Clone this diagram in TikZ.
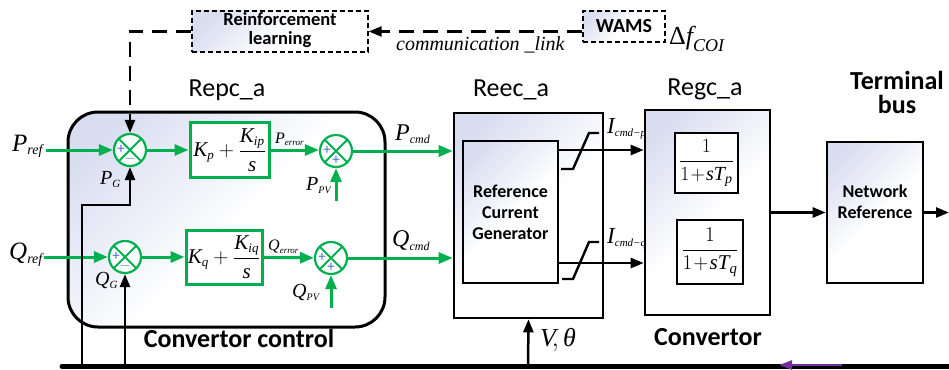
\documentclass[tikz,border=0pt]{standalone}
\usepackage{fix-cm}
\usepackage{amsmath}
\usepackage{fontspec}
\setmainfont{Liberation Serif}
\newfontfamily\calib{Carlito}
\usetikzlibrary{arrows.meta,calc}
\definecolor{gn}{RGB}{0,176,80}
\definecolor{bl}{RGB}{68,114,196}
\definecolor{lav}{RGB}{216,221,240}
\definecolor{pur}{RGB}{112,48,160}
\pgfdeclarehorizontalshading{lavsh}{100bp}{color(0bp)=(lav); color(22bp)=(lav); color(52bp)=(white); color(100bp)=(white)}
\newcommand\tmi[1]{\textnormal{\itshape #1}}
\newcommand\lb[3]{\tmi{#1}_{\textnormal{\fontsize{#3}{#3}\selectfont\itshape #2}}}
\tikzset{
  sumjn/.style={circle, draw=gn, line width=2.2pt, fill=white, minimum size=32pt, inner sep=0pt,
    path picture={\draw[gn,line width=1.8pt]
      (path picture bounding box.north west)--(path picture bounding box.south east)
      (path picture bounding box.north east)--(path picture bounding box.south west);}},
  gbox/.style={draw=gn, line width=3pt, fill=white, inner sep=0pt},
  shbox/.style={draw=black, line width=2.6pt, shading=lavsh, shading angle=-45, inner sep=0pt},
  wbox/.style={draw=black, line width=2.6pt, fill=white, inner sep=0pt},
  gar/.style={draw=gn, line width=3pt, -{Triangle[length=14pt,width=11pt]}},
  blkarrow/.style={draw=black, line width=2.5pt, -{Triangle[length=13pt,width=10pt]}},
  dline/.style={draw=black, line width=2.5pt, dash pattern=on 15pt off 9pt},
  sgn/.style={text=bl, font=\calib\fontsize{15}{15}\selectfont, inner sep=0pt},
  lbl/.style={font=\calib\fontsize{26}{26}\selectfont, inner sep=0pt},
  ml/.style={inner sep=0pt, anchor=base west, font=\fontsize{#1}{#1}\selectfont},
  dashbox/.style={draw=black, line width=1.4pt, dash pattern=on 5pt off 3pt, shading=lavsh, shading angle=-45, inner sep=0pt},
  btxt/.style={font=\calib\bfseries\fontsize{#1}{#1}\selectfont, inner sep=0pt, anchor=base},
}
\begin{document}
\begin{tikzpicture}[x=1pt,y=-1pt]
\useasboundingbox (0,0) rectangle (949,369);

% ---- top: RL and WAMS
\node[dashbox, minimum width=176pt, minimum height=41pt] (rl) at (280,31.5) {};
\node[btxt=18.5] (rl1) at (280,26) {Reinforcement};
\node[btxt=18.5] (rl2) at (280,45) {learning};
\node[dashbox, minimum width=82pt, minimum height=31pt] (wams) at (624,26.5) {};
\node[btxt=20] (wamst) at (624,33) {WAMS};
\node[inner sep=0pt, anchor=base west, font=\itshape\fontsize{20}{20}\selectfont] (comm) at (396,50) {communication \_link};
\node[ml=26] (dfc) at (669,45) {$\textnormal{Δ}\lb{f}{COI}{18}$};

% ---- titles
\node[lbl, anchor=base] (repc) at (227,96) {Repc\_a};
\node[lbl, anchor=base] (reect) at (511,96) {Reec\_a};
\node[lbl, anchor=base] (regct) at (705,95) {Regc\_a};
\node[btxt=26] (term1) at (897,89) {Terminal};
\node[btxt=26] (term2) at (897,113) {bus};
\node[btxt=26] (cc) at (239,347) {Convertor control};
\node[btxt=26] (conv) at (708,345) {Convertor};

% ---- convertor control box
\node[shbox, line width=3pt, rounded corners=30pt, minimum width=317pt, minimum height=215pt] (ctrl) at (226.5,219.5) {};

% summing junctions
\node[sumjn] (s1) at (130,150) {};
\node[sumjn] (s2) at (336,151) {};
\node[sumjn] (s3) at (125,257) {};
\node[sumjn] (s4) at (331,258) {};
\node[sgn] (s1a) at ($(s1)+(-9,-1)$) {+};
\node[sgn] (s1b) at ($(s1)+(0,9)$) {$-$};
\node[sgn] (s2a) at ($(s2)+(-9,-1)$) {+};
\node[sgn] (s2b) at ($(s2)+(0,9)$) {+};
\node[sgn] (s3a) at ($(s3)+(-9,-1)$) {+};
\node[sgn] (s3b) at ($(s3)+(0,9)$) {$-$};
\node[sgn] (s4a) at ($(s4)+(-9,-1)$) {+};
\node[sgn] (s4b) at ($(s4)+(0,9)$) {+};

% PI blocks
\node[gbox, minimum width=79pt, minimum height=55pt, font=\fontsize{21}{21}\selectfont] (pi1) at (229.5,150)
  {$\lb{K}{p}{13}+\dfrac{\lb{K}{ip}{13}}{\tmi{s}}$};
\node[gbox, minimum width=76pt, minimum height=54pt, font=\fontsize{21}{21}\selectfont] (pi2) at (224,257)
  {$\lb{K}{q}{13}+\dfrac{\lb{K}{iq}{13}}{\tmi{s}}$};

% labels in control
\node[ml=25] (pref) at (12,151) {$\lb{P}{ref}{14}$};
\node[ml=25] (qref) at (9,259) {$\lb{Q}{ref}{14}$};
\node[ml=20] (pg) at (100,184) {$\lb{P}{G}{11}$};
\node[ml=20] (qg) at (95,285) {$\lb{Q}{G}{11}$};
\node[ml=16] (perr) at (275,143) {$\lb{P}{error}{9}$};
\node[ml=16] (qerr) at (268,250) {$\lb{Q}{error}{9}$};
\node[ml=20] (ppv) at (306,190) {$\lb{P}{PV}{10}$};
\node[ml=20] (qpv) at (292,297) {$\lb{Q}{PV}{10}$};
\node[ml=24] (pcmd) at (395,140) {$\lb{P}{cmd}{12}$};
\node[ml=24] (qcmd) at (392,246) {$\lb{Q}{cmd}{12}$};

% ---- Reec
\node[shbox, minimum width=149pt, minimum height=205pt] (reec) at (528.5,215.5) {};
\node[shbox, minimum width=95pt, minimum height=142pt, align=center,
  font=\calib\bfseries\fontsize{18}{21}\selectfont] (rcg) at (510.5,212) {Reference\\Current\\Generator};
\draw[line width=2.4pt] (561,169) -- (573,169) -- (589,133) -- (599,133);
\draw[line width=2.4pt] (562,279) -- (573,279) -- (589,242) -- (599,242);

% ---- Regc
\node[shbox, minimum width=125pt, minimum height=205pt] (regc) at (707.5,212.5) {};
\node[wbox, minimum width=63pt, minimum height=60pt, font=\fontsize{20}{20}\selectfont] (tp) at (706.5,163)
  {$\dfrac{1}{1\!+\!\tmi{sT}_{\tmi{p}}}$};
\node[wbox, minimum width=66pt, minimum height=64pt, font=\fontsize{21}{21}\selectfont] (tq) at (710,252)
  {$\dfrac{1}{1\!+\!\tmi{sT}_{\tmi{q}}}$};
\node[ml=23] (icp) at (607,133) {$\lb{I}{cmd−p}{11}$};
\node[ml=23] (icq) at (607,243) {$\lb{I}{cmd−q}{11}$};

% ---- Network reference
\node[shbox, minimum width=96pt, minimum height=141pt] (nr) at (875,212.5) {};
\node[inner sep=0pt, align=center, font=\calib\bfseries\fontsize{18}{21}\selectfont] (nrt) at (875,202) {Network\\Reference};

% ---- coordinates
\coordinate (pin) at (46,150);
\coordinate (qin) at (44,257);
\coordinate (ppvin) at (336,201);
\coordinate (qpvin) at (331,308);
\coordinate (fbP) at (82,366);
\coordinate (fbPc) at (130,205);
\coordinate (fbQ) at (125,366);
\coordinate (vin) at (528,366);
\coordinate (py) at (0,150);
\coordinate (qy) at (0,263);
\coordinate (outr) at (949,212.5);
\coordinate (busL) at (62,366.5);
\coordinate (busR) at (949,366.5);
\coordinate (pa) at (842,365);
\coordinate (pb) at (779,365);

% ---- green connectors
\draw[gar] (pin) -- (s1);
\draw[gar] (s1) -- (pi1);
\draw[gar] (pi1) -- (pi1 -| s2.west);
\draw[gar] (ppvin) -- (s2);
\draw[gar] (s2) -- (s2 -| reec.west);
\draw[gar] (qin) -- (s3);
\draw[gar] (s3) -- (pi2);
\draw[gar] (pi2) -- (s4);
\draw[gar] (qpvin) -- (s4);
\draw[gar] (s4) -- (s4 -| reec.west);

% ---- black connectors
\draw[blkarrow] (fbP) |- (fbPc) -- (s1);
\draw[blkarrow] (fbQ) -- (s3);
\draw[blkarrow] (rcg.east |- py) -- (regc.west |- py);
\draw[blkarrow] (rcg.east |- qy) -- (regc.west |- qy);
\draw[blkarrow] (regc) -- (nr);
\draw[blkarrow] (nr) -- (outr);
\draw[blkarrow] (vin) -- (reec.south);
\node[ml=26] (vth) at (540,346) {$\tmi{V}\!,\tmi{θ}$};

% ---- dashed communication
\draw[dline] (rl.west) -| (s1.north);
\draw[-{Triangle[length=13pt,width=10pt]}, line width=2.5pt] ($(s1.north)+(0,-16)$) -- (s1.north);
\draw[dline, -{Triangle[length=13pt,width=10pt]}] (wams.west |- rl.east) -- (rl.east);

% ---- bus
\draw[line width=5pt, line cap=round] (busL) -- (busR);
\draw[draw=pur, line width=2.4pt, -{Triangle[length=13pt,width=9pt]}] (pa) -- (pb);
\end{tikzpicture}
\end{document}
